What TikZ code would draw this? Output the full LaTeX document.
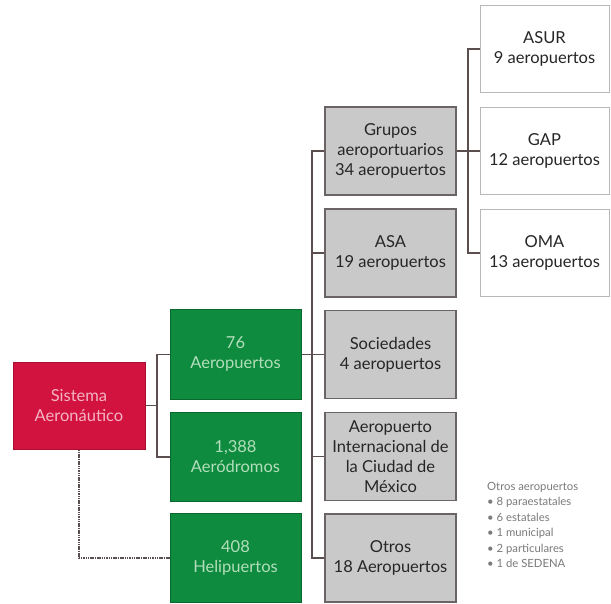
\documentclass[tikz,border=0pt]{standalone}
\usepackage{fontspec}
\setmainfont{Lato}
\usetikzlibrary{calc}
\definecolor{redbox}{HTML}{D2123F}
\definecolor{redtext}{HTML}{F4B4C2}
\definecolor{greenbox}{HTML}{0E8B3E}
\definecolor{greentext}{HTML}{B2DEBB}
\definecolor{graybox}{HTML}{C9C9C9}
\definecolor{grayborder}{HTML}{6A6464}
\definecolor{whiteborder}{HTML}{B8B8B8}
\definecolor{conncol}{HTML}{5A4E4E}
\definecolor{notecol}{HTML}{7A7A7A}
\tikzset{
  basebox/.style={rectangle, align=center, inner sep=0pt, font=\fontsize{16.5}{20}\selectfont},
  redstyle/.style={basebox, fill=redbox, draw=redbox!80!black, line width=1pt, text=redtext, minimum width=132pt, minimum height=87pt},
  greenstyle/.style={basebox, fill=greenbox, draw=greenbox!75!black, line width=1pt, text=greentext, minimum width=131pt, minimum height=89pt},
  graystyle/.style={basebox, fill=graybox, draw=grayborder, line width=1.2pt, text=black!85, minimum width=131pt, minimum height=88pt},
  whitestyle/.style={basebox, fill=white, draw=whiteborder, line width=1pt, text=black!85, minimum width=129pt, minimum height=87pt},
  conn/.style={draw=conncol, line width=1.3pt},
  dconn/.style={draw=conncol, line width=1.3pt, dash pattern=on 1.5pt off 0.8pt},
  note/.style={align=left, inner sep=0pt, text=notecol, font=\fontsize{11.3}{15.5}\selectfont, anchor=north west}
}
\begin{document}
\begin{tikzpicture}[x=1pt,y=-1pt]
\useasboundingbox[fill=white] (0,0) rectangle (611,604);
% nodes
\node[redstyle] (sis) at (79,405.5) {Sistema\\Aeronáutico};
\node[greenstyle] (aer) at (235.5,354.5) {76\\Aeropuertos};
\node[greenstyle] (adr) at (235.5,457) {1,388\\Aeródromos};
\node[greenstyle] (hel) at (235.5,558) {408\\Helipuertos};
\node[graystyle] (grp) at (390.5,151) {Grupos\\aeroportuarios\\34 aeropuertos};
\node[graystyle] (asa) at (390.5,253) {ASA\\19 aeropuertos};
\node[graystyle] (soc) at (390.5,354.5) {Sociedades\\4 aeropuertos};
\node[graystyle] (aicm) at (390.5,456.5) {Aeropuerto\\Internacional de\\la Ciudad de\\México};
\node[graystyle] (otr) at (390.5,558) {Otros\\18 Aeropuertos};
\node[whitestyle] (asur) at (544.5,49) {ASUR\\9 aeropuertos};
\node[whitestyle] (gap) at (544.5,151) {GAP\\12 aeropuertos};
\node[whitestyle] (oma) at (544.5,253) {OMA\\13 aeropuertos};
\node[note] (nota) at (487,482) {Otros aeropuertos\\• 8 paraestatales\\• 6 estatales\\• 1 municipal\\• 2 particulares\\• 1 de SEDENA};
% junctions
\coordinate (j1) at (157,405.5);
\coordinate (j2) at (312,354.5);
\coordinate (j3) at (468,151);
% connectors level 1
\draw[conn] (sis.east) -- (j1);
\draw[conn] (aer.west) -| (j1);
\draw[conn] (adr.west) -| (j1);
\draw[dconn] (sis.south) |- (hel.west);
% level 2
\draw[conn] (aer.east) -- (j2) -- (soc.west);
\draw[conn] (grp.west) -| (j2);
\draw[conn] (asa.west) -| (j2);
\draw[conn] (aicm.west) -| (j2);
\draw[conn] (otr.west) -| (j2);
% level 3
\draw[conn] (grp.east) -- (j3) -- (gap.west);
\draw[conn] (asur.west) -| (j3);
\draw[conn] (oma.west) -| (j3);
\end{tikzpicture}
\end{document}
